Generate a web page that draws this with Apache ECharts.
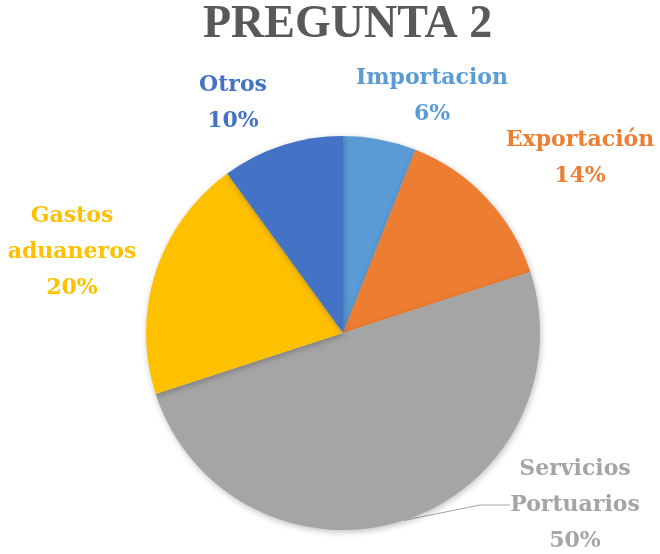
<!DOCTYPE html>
<html>
<head>
<meta charset="utf-8">
<script src="https://cdn.jsdelivr.net/npm/echarts@6/dist/echarts.min.js"></script>
<style>
  html, body { margin: 0; padding: 0; background: #fff; }
  #main { width: 660px; height: 554px; }
</style>
</head>
<body>
<div id="main"></div>
<script>
// datos de la pregunta 2
var categorias = ['Importacion', 'Exportación', 'Servicios\nPortuarios', 'Gastos\naduaneros', 'Otros'];
var porcentajes = [6, 14, 50, 20, 10];
var colores = ['#5B9BD5', '#ED7D31', '#A5A5A5', '#FFC000', '#4472C4'];

// posicion de cada etiqueta (centro del texto)
var posEtiquetas = [[432, 96], [580, 158], [575, 505], [72, 252], [233, 103]];

var myChart = echarts.init(document.getElementById('main'));

var datos = categorias.map(function (c, i) {
    return {
        name: c,
        value: porcentajes[i],
        itemStyle: { color: colores[i] },
        label: { color: colores[i] },
        labelLine: { show: i === 2 }
    };
});

var option = {
    animation: false,
    title: {
        text: 'PREGUNTA 2',
        left: 198,
        top: -3,
        textStyle: {
            fontFamily: 'Liberation Serif',
            fontWeight: 'bold',
            fontSize: 46,
            color: '#595959'
        }
    },
    series: [{
        type: 'pie',
        center: [343, 333],
        radius: 197,
        startAngle: 90,
        clockwise: true,
        data: datos,
        itemStyle: {
            borderWidth: 0,
            shadowBlur: 6,
            shadowColor: 'rgba(0,0,0,0.25)',
            shadowOffsetX: 1,
            shadowOffsetY: 2
        },
        label: {
            show: true,
            formatter: function (p) { return p.name + '\n' + p.value + '%'; },
            fontFamily: 'DejaVu Serif',
            fontWeight: 'bold',
            fontSize: 22,
            lineHeight: 36,
            align: 'center',
            overflow: 'none'
        },
        labelLine: {
            lineStyle: { color: '#A5A5A5', width: 1 }
        },
        labelLayout: function (params) {
            var p = posEtiquetas[params.dataIndex];
            return { x: p[0], y: p[1], align: 'center', verticalAlign: 'middle' };
        }
    }]
};

myChart.setOption(option);
</script>
</body>
</html>
